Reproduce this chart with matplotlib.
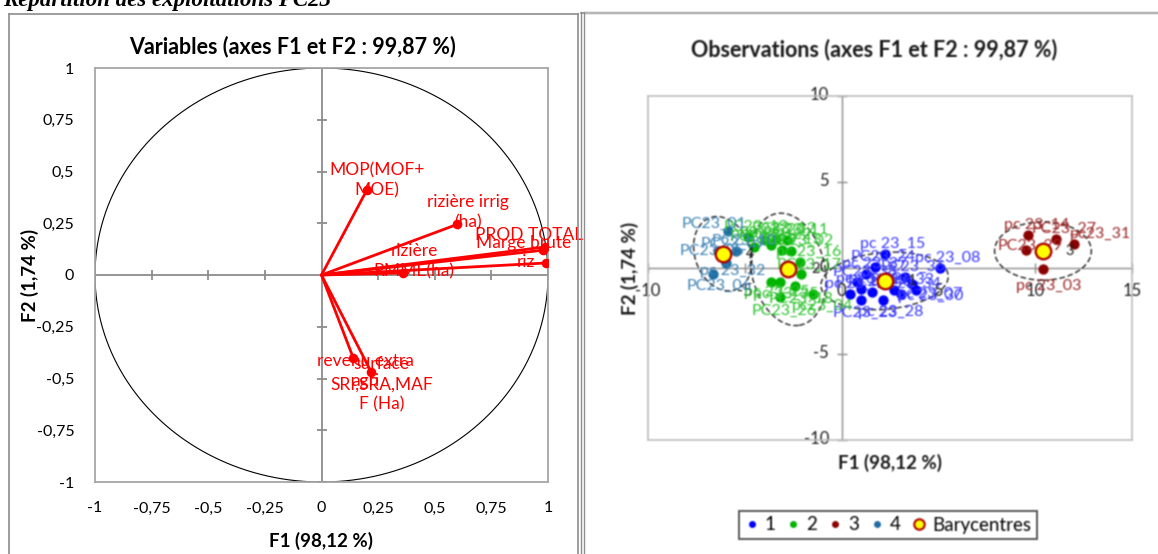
import matplotlib
matplotlib.use("Agg")
import matplotlib.pyplot as plt
from matplotlib.patches import Ellipse
from matplotlib.lines import Line2D
import numpy as np

plt.rcParams['font.family'] = ['Lato', 'DejaVu Sans']

W, H = 1158, 554

# ---------------- correlation circle data ----------------
var_names = ["MOP(MOF+\nMOE)", "rizière irrig\n(ha)", "PROD TOTAL", "Marge brute",
             "riz", "rizière\nRMME(ha)", "revenu extra\nagri", "surface\nSRI,SRA,MAF\nF (Ha)"]
var_f1 = [0.20, 0.60, 0.985, 0.98, 0.99, 0.36, 0.14, 0.22]
var_f2 = [0.41, 0.245, 0.135, 0.12, 0.058, 0.01, -0.40, -0.47]
circle_ticks = [-1, -0.75, -0.5, -0.25, 0, 0.25, 0.5, 0.75, 1]
circle_ticklabels = ["-1", "-0,75", "-0,5", "-0,25", "0", "0,25", "0,5", "0,75", "1"]

# ---------------- observations data ----------------
c1_names = ["pc 23_15", "PC23_24", "pc 23_08", "PC23_36", "pc 23_37", "PC23_38", "pc 23_39",
            "PC23_40", "pc 23_41", "PC23_33", "pc 23_07", "PC23_34", "PC23_23", "pc 23_28", "pc 23_30"]
c1_f1 = [2.22, 1.75, 5.08, 3.27, 1.27, 0.80, 0.99, 1.56, 0.42, 2.70, 3.84, 3.08, 0.99, 2.13, 3.65]
c1_f2 = [0.80, 0.03, -0.02, -0.55, -0.36, -0.84, -1.23, -1.42, -1.52, -1.32, -1.32, -1.52, -1.91, -1.91, -0.94]

c2_names = ["PC23_19", "pc 23_20", "PC23_12", "pc 23_11", "PC23_21", "pc 23_22", "PC23_13",
            "PC 23_02", "pc 23_16", "PC23_17", "pc 23_25", "pc 23_35", "pc23_04", "PC23_26", "PC23_18"]
c2_f1 = [-4.81, -3.95, -3.38, -2.81, -4.52, -3.67, -3.10, -2.62, -2.13, -2.11, -3.67, -3.19, -1.48, -3.19, -2.40]
c2_f2 = [1.80, 1.61, 1.67, 1.58, 1.19, 1.29, 1.00, 0.96, 0.32, -0.40, -0.84, -0.84, -1.52, -1.71, -1.10]

c3_names = ["pc 23_14", "PC23_29", "pc 23_03", "pc23_31", "PC23_27"]
c3_f1 = [9.64, 9.54, 10.40, 12.02, 11.06]
c3_f2 = [1.87, 1.04, -0.07, 1.38, 1.67]

c4_names = ["PC23_01", "PC23_05", "PC23_09", "PC23_10", "pc 23_32", "PC23_06"]
c4_f1 = [-5.89, -6.39, -6.01, -5.48, -5.95, -6.62]
c4_f2 = [2.10, 0.96, 0.80, 0.96, 0.26, -0.36]

class_labels = ["1", "2", "3", "4"]
bary_f1 = [2.22, -2.76, 10.40, -6.14]
bary_f2 = [-0.78, -0.11, 0.96, 0.80]
# confidence ellipses (width along F1, height along F2, rotation in degrees)
ell_w = [6.6, 3.8, 5.0, 2.9]
ell_h = [3.3, 6.6, 3.4, 4.4]
ell_angle = [6, 10, 0, 14]

obs_ticks = [-10, -5, 0, 5, 10, 15]
obs_yticks = [-10, -5, 0, 5, 10]

# ---------------- figure ----------------
fig = plt.figure(figsize=(W / 100, H / 100), dpi=100)


def fx(px):
    return px / W


def fy(py):
    return 1 - py / H


# panel frames
fig.add_artist(Line2D([fx(9), fx(9)], [fy(14), fy(554)], color='#8c8c8c', lw=1.2))
fig.add_artist(Line2D([fx(9), fx(578)], [fy(14), fy(14)], color='#8c8c8c', lw=1.2))
fig.add_artist(Line2D([fx(578), fx(578)], [fy(14), fy(554)], color='#8c8c8c', lw=1.2))
fig.add_artist(Line2D([fx(581), fx(581)], [fy(12), fy(554)], color='#8c8c8c', lw=1.0))
fig.add_artist(Line2D([fx(584), fx(584)], [fy(12), fy(554)], color='#8c8c8c', lw=1.0))
fig.add_artist(Line2D([fx(581), fx(1158)], [fy(12.5), fy(12.5)], color='#8c8c8c', lw=1.2))

# document heading above the panels
fig.text(fx(3), fy(6), "Répartition des exploitations PC23", family='Liberation Serif',
         fontsize=16.5, fontweight='bold', fontstyle='italic', va='baseline', ha='left')

# ================= left: correlation circle =================
axL = fig.add_axes([fx(95), fy(482), fx(548) - fx(95), fy(68) - fy(482)])
axL.set_xlim(-1, 1)
axL.set_ylim(-1, 1)
for s in axL.spines.values():
    s.set_color('#a6a6a6')
    s.set_linewidth(1.3)
axL.axhline(0, color='#8c8c8c', lw=1.3, zorder=1)
axL.axvline(0, color='#8c8c8c', lw=1.3, zorder=1)
minor = [t for t in circle_ticks if t != 0]
axL.plot(minor, [0] * len(minor), ls='none', marker='|', ms=7.5, mew=1.3, color='#8c8c8c', zorder=1)
axL.plot([0] * len(minor), minor, ls='none', marker='_', ms=7.5, mew=1.3, color='#8c8c8c', zorder=1)
axL.set_xticks(circle_ticks)
axL.set_xticklabels(circle_ticklabels)
axL.set_yticks(circle_ticks)
axL.set_yticklabels(circle_ticklabels)
axL.tick_params(length=0, labelsize=11.5, pad=14)
axL.tick_params(axis='y', pad=15)
theta = np.linspace(0, 2 * np.pi, 400)
axL.plot(np.cos(theta), np.sin(theta), color='black', lw=0.8, zorder=2)

for x, y in zip(var_f1, var_f2):
    axL.plot([0, x], [0, y], color='#ff0000', lw=2.0, zorder=3, solid_capstyle='round')
axL.scatter(var_f1, var_f2, s=48, color='#ff0000', zorder=4, linewidths=0)

# label offsets in pixels (right, up)
var_offsets = {
    "MOP(MOF+\nMOE)": (10, 10),
    "rizière irrig\n(ha)": (11, 12),
    "PROD TOTAL": (-16, 12),
    "Marge brute": (-20, 7),
    "riz": (-20, 1),
    "rizière\nRMME(ha)": (11, 12),
    "revenu extra\nagri": (12, -13),
    "surface\nSRI,SRA,MAF\nF (Ha)": (10, -12),
}
for name, x, y in zip(var_names, var_f1, var_f2):
    dx, dy = var_offsets[name]
    axL.annotate(name, (x, y), xytext=(dx * 0.72, dy * 0.72), textcoords='offset points',
                 ha='center', va='center', color='#ff0000', fontsize=12.5, linespacing=1.3,
                 zorder=5, annotation_clip=False)

fig.text(fx(293), fy(47), "Variables (axes F1 et F2 : 99,87 %)", fontsize=15.5,
         fontweight='bold', ha='center', va='center')
fig.text(fx(321), fy(541), "F1 (98,12 %)", fontsize=13.5, fontweight='bold', ha='center', va='center')
fig.text(fx(30), fy(275), "F2 (1,74 %)", fontsize=13.5, fontweight='bold', ha='center', va='center',
         rotation=90)

# ================= right: observations =================
axR = fig.add_axes([fx(648), fy(439.5), fx(1132) - fx(648), fy(95.5) - fy(439.5)])
axR.set_xlim(-10, 15)
axR.set_ylim(-10, 10)
for s in axR.spines.values():
    s.set_color('#bdbdbd')
    s.set_linewidth(1.2)
axR.set_xticks([])
axR.set_yticks([])
axR.axhline(0, color='#8c8c8c', lw=1.0, zorder=1)
axR.axvline(0, color='#8c8c8c', lw=1.0, zorder=1)
xt_marks = [t for t in obs_ticks if t != 0]
yt_marks = [t for t in obs_yticks if t != 0]
axR.plot(xt_marks, [0] * len(xt_marks), ls='none', marker='|', ms=7, mew=1.0, color='#8c8c8c',
         zorder=1, clip_on=False)
axR.plot([0] * len(yt_marks), yt_marks, ls='none', marker='_', ms=7, mew=1.0, color='#8c8c8c',
         zorder=1, clip_on=False)
for t in obs_ticks:
    axR.annotate(str(t), (t, 0), xytext=(0, -17), textcoords='offset points', ha='center',
                 va='center', fontsize=12, color='#202020', zorder=1, annotation_clip=False)
for t in obs_yticks:
    if t == 0:
        continue
    axR.annotate(str(t), (0, t), xytext=(-9, 0), textcoords='offset points', ha='right',
                 va='center', fontsize=12, color='#202020', zorder=1, annotation_clip=False)
axR.annotate("0", (0, 0), xytext=(-9, 0), textcoords='offset points', ha='right',
             va='center', fontsize=12, color='#202020', zorder=1)

for cx, cy, w, h, a in zip(bary_f1, bary_f2, ell_w, ell_h, ell_angle):
    axR.add_patch(Ellipse((cx, cy), w, h, angle=a, fill=False, ls=(0, (4, 2)), lw=1.0,
                          edgecolor='#202020', zorder=2))

groups = [
    (c1_names, c1_f1, c1_f2, '#0000ff', '#3a3aff'),
    (c2_names, c2_f1, c2_f2, '#00b400', '#2fc42f'),
    (c3_names, c3_f1, c3_f2, '#8b0000', '#9e2a2a'),
    (c4_names, c4_f1, c4_f2, '#1f6ea3', '#3d84b8'),
]
below = {"pc 23_03": (6, -17), "PC23_26": (4, -14), "pc 23_30": (18, -12), "pc 23_07": (14, -4),
         "PC23_23": (4, -13), "pc 23_28": (8, -12), "pc23_04": (10, -12), "PC23_18": (6, -12),
         "pc 23_35": (6, -12), "pc 23_25": (6, -10), "PC23_06": (6, -12), "pc 23_32": (6, -8),
         "pc23_31": (26, 10), "PC23_29": (4, 4), "PC23_05": (-6, 0), "PC23_01": (-14, 8)}
for names, xs, ys, col, lcol in groups:
    axR.scatter(xs, ys, s=55, color=col, zorder=3, linewidths=0)
    for n, x, y in zip(names, xs, ys):
        dx, dy = below.get(n, (8, 10))
        axR.annotate(n, (x, y), xytext=(dx * 0.72, dy * 0.72), textcoords='offset points',
                     ha='center', va='center', fontsize=11.5, color=lcol, zorder=4)

axR.scatter(bary_f1, bary_f2, s=125, color='#ffff00', edgecolors='#b00000', linewidths=1.7, zorder=6)
for lab, x, y in zip(class_labels, bary_f1, bary_f2):
    axR.annotate(lab, (x, y), xytext=(27 * 0.72, 0), textcoords='offset points', ha='center',
                 va='center', fontsize=10.5, color='#202020', zorder=5)

fig.text(fx(874), fy(50), "Observations (axes F1 et F2 : 99,87 %)", fontsize=15.5,
         fontweight='bold', ha='center', va='center', color='#1a1a1a')
fig.text(fx(890), fy(463), "F1 (98,12 %)", fontsize=13.5, fontweight='bold', ha='center', va='center',
         color='#1a1a1a')
fig.text(fx(630), fy(268), "F2 (1,74 %)", fontsize=13.5, fontweight='bold', ha='center', va='center',
         rotation=90, color='#1a1a1a')

handles = [Line2D([], [], ls='none', marker='o', ms=5, color=c, mew=0) for _, _, _, c, _ in groups]
handles.append(Line2D([], [], ls='none', marker='o', ms=7.5, markerfacecolor='#ffff00',
                      markeredgecolor='#b00000', mew=1.5))
leg = fig.legend(handles, class_labels + ["Barycentres"], loc='center',
                 bbox_to_anchor=(fx(888), fy(525)), ncol=5, frameon=True, fancybox=False,
                 edgecolor='#303030', handlelength=0.7, handletextpad=0.35, columnspacing=0.6,
                 fontsize=13.5, borderpad=0.3)
leg.get_frame().set_linewidth(1.4)

# render, then soften the observations panel which comes from a rescaled export
fig.canvas.draw()
img = np.asarray(fig.canvas.buffer_rgba()).astype(float)[:, :, :3] / 255.0
region = img[:, 585:, :]
k = np.array([0.25, 0.5, 0.25])
pad = np.pad(region, ((1, 1), (1, 1), (0, 0)), mode='edge')
tmp = k[0] * pad[:, :-2] + k[1] * pad[:, 1:-1] + k[2] * pad[:, 2:]
region = k[0] * tmp[:-2] + k[1] * tmp[1:-1] + k[2] * tmp[2:]
img[:, 585:, :] = region
plt.imsave("out.png", np.clip(img, 0, 1))
